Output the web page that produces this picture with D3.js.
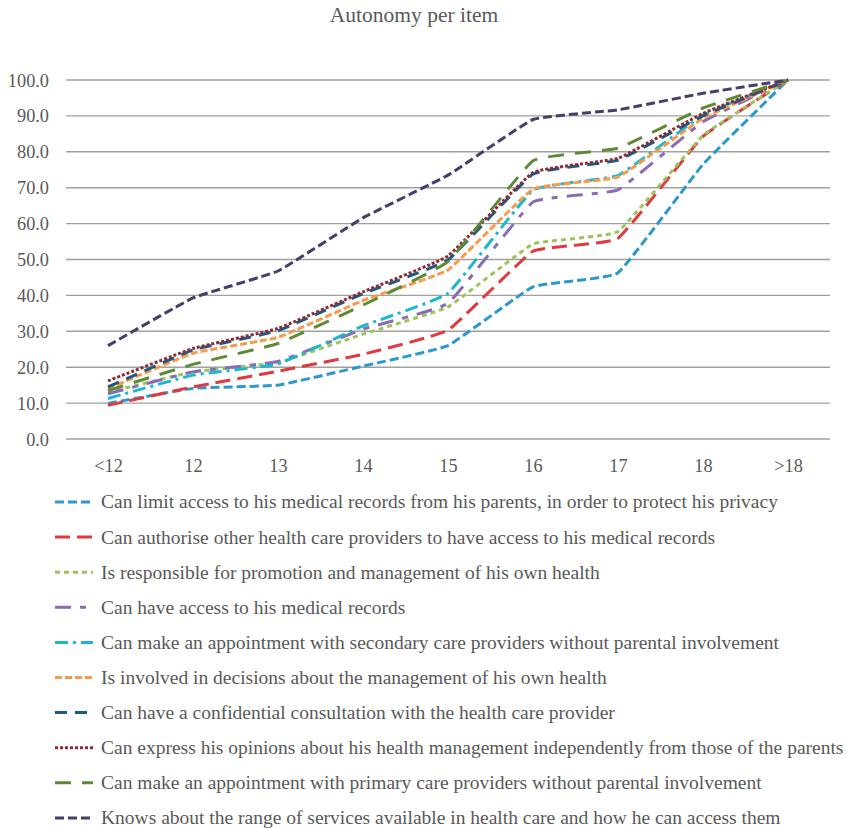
<!DOCTYPE html>
<html>
<head>
<meta charset="utf-8">
<script src="https://cdn.jsdelivr.net/npm/d3@7"></script>
<style>
  body { margin: 0; background: #fff; }
  text { font-family: "Liberation Serif", "Times New Roman", serif; fill: #595959; }
</style>
</head>
<body>
<script>
// Width and height
const w = 846;
const h = 828;

// Categories (age)
const ages = ['<12', '12', '13', '14', '15', '16', '17', '18', '>18'];
const yTicks = [0, 10, 20, 30, 40, 50, 60, 70, 80, 90, 100];

// Series values
const limitAccess = [9.9, 14.1, 15.0, 20.3, 26.0, 42.4, 46.3, 76.5, 100];
const authorise = [9.4, 14.5, 18.9, 23.6, 30.3, 52.3, 55.9, 84.3, 100];
const responsible = [13.0, 18.7, 21.3, 29.2, 36.8, 54.3, 57.8, 84.5, 100];
const accessRecords = [12.6, 18.7, 21.6, 30.6, 37.8, 66.0, 69.4, 88.4, 100];
const secondaryCare = [11.3, 17.8, 20.9, 31.5, 40.6, 69.3, 73.4, 90.2, 100];
const involved = [14.0, 23.9, 28.3, 38.6, 47.1, 69.6, 73.0, 89.3, 100];
const confidential = [14.5, 24.8, 30.2, 40.5, 49.9, 73.8, 77.7, 90.0, 100];
const opinions = [16.2, 25.2, 30.8, 41.0, 51.0, 74.2, 78.2, 90.7, 100];
const primaryCare = [13.5, 20.8, 26.6, 37.3, 49.4, 77.5, 81.0, 92.2, 100];
const knowsServices = [26.0, 39.3, 46.8, 61.6, 73.5, 89.0, 91.7, 96.3, 100];

const labels = [
  'Can limit access to his medical records from his parents, in order to protect his privacy',
  'Can authorise other health care providers to have access to his medical records',
  'Is responsible for promotion and management of his own health',
  'Can have access to his medical records',
  'Can make an appointment with secondary care providers without parental involvement',
  'Is involved in decisions about the management of his own health',
  'Can have a confidential consultation with the health care provider',
  'Can express his opinions about his health management independently from those of the parents',
  'Can make an appointment with primary care providers without parental involvement',
  'Knows about the range of services available in health care and how he can access them'
];

const values = [limitAccess, authorise, responsible, accessRecords, secondaryCare,
  involved, confidential, opinions, primaryCare, knowsServices];

// Line styles
const colors = ['#2c98cd', '#e0393e', '#9bc45a', '#8a6bb4', '#1ab8cf',
  '#f89a4a', '#1b5b82', '#8e2b35', '#5f8a35', '#4b3b6b'];
const dashes = ['9,4', '15,7', '5,4', '16,9,6,9', '13,5,3,5',
  '7,3', '12,8', '3,2', '16,11', '9,4'];

const series = labels.map((label, i) => ({
  label,
  color: colors[i],
  dash: dashes[i],
  values: values[i]
}));

// Plot area
const margin = { top: 80, left: 66, right: 830, bottom: 439 };

const svg = d3.select('body')
  .append('svg')
  .attr('width', w)
  .attr('height', h);

// Title
svg.append('text')
  .attr('x', 414)
  .attr('y', 22)
  .attr('text-anchor', 'middle')
  .style('font-size', '21.5px')
  .text('Autonomy per item');

// Scales
const x = d3.scalePoint()
  .domain(ages)
  .range([108, 788]);

const y = d3.scaleLinear()
  .domain([0, 100])
  .range([margin.bottom, margin.top]);

// Gridlines
svg.append('g')
  .selectAll('line')
  .data(yTicks)
  .enter()
  .append('line')
  .attr('x1', margin.left)
  .attr('x2', margin.right)
  .attr('y1', d => y(d))
  .attr('y2', d => y(d))
  .style('stroke', '#a0a0a0')
  .style('stroke-width', 1.4);

// Y axis labels
const yAxis = d3.axisLeft(y)
  .tickValues(yTicks)
  .tickFormat(d3.format('.1f'))
  .tickSize(0)
  .tickPadding(0);

svg.append('g')
  .attr('transform', 'translate(49,0)')
  .call(yAxis)
  .call(g => g.select('.domain').remove())
  .selectAll('text')
  .attr('dy', '0.33em')
  .style('font-size', '18.3px')
  .style('font-family', '"Liberation Serif", serif')
  .style('fill', '#595959');

// X axis labels
const xAxis = d3.axisBottom(x)
  .tickSize(0)
  .tickPadding(0);

svg.append('g')
  .attr('transform', 'translate(0,' + (margin.bottom + 27) + ')')
  .call(xAxis)
  .call(g => g.select('.domain').remove())
  .selectAll('text')
  .attr('dy', '0.33em')
  .style('font-size', '18.3px')
  .style('font-family', '"Liberation Serif", serif')
  .style('fill', '#595959');

// Line generator, lightly smoothed like the spreadsheet chart
const line = d3.line()
  .x((d, i) => x(ages[i]))
  .y(d => y(d))
  .curve(d3.curveCardinal.tension(0.7));

svg.append('g')
  .selectAll('path')
  .data(series)
  .enter()
  .append('path')
  .attr('d', d => line(d.values))
  .style('fill', 'none')
  .style('stroke', d => d.color)
  .style('stroke-width', 3)
  .style('stroke-dasharray', d => d.dash);

// Legend
const legend = svg.append('g')
  .selectAll('g')
  .data(series)
  .enter()
  .append('g')
  .attr('transform', (d, i) => 'translate(0,' + (502 + i * 35.1) + ')');

legend.append('line')
  .attr('x1', 55)
  .attr('x2', 93)
  .attr('y1', 0)
  .attr('y2', 0)
  .style('stroke', d => d.color)
  .style('stroke-width', 3)
  .style('stroke-dasharray', d => d.dash);

legend.append('text')
  .attr('x', 101)
  .attr('y', 0)
  .attr('dy', '0.33em')
  .style('font-size', '19.5px')
  .text(d => d.label);
</script>
</body>
</html>
